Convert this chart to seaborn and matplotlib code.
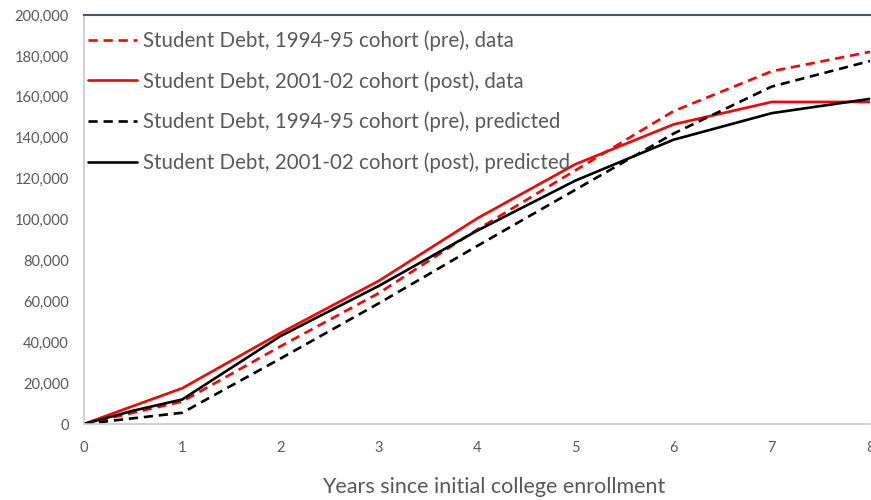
import numpy as np
import pandas as pd
import matplotlib
matplotlib.use("Agg")
import matplotlib.pyplot as plt
import seaborn as sns
from matplotlib.ticker import FuncFormatter

sns.set_theme(style="white")
plt.rcParams['font.family'] = ['Lato', 'DejaVu Sans']

# Years since initial college enrollment
years = [0, 0.5, 1, 2, 3, 4, 5, 6, 7, 8]

pre_data = [0, 5500, 11000, 38000, 64000, 95000, 124000, 153000, 172500, 182000]
post_data = [0, 8800, 17500, 44500, 70000, 100500, 127000, 146500, 157500, 157500]
pre_pred = [0, 2800, 5500, 32000, 59000, 87000, 114500, 142000, 165000, 177500]
post_pred = [0, 6500, 12000, 43000, 67500, 94500, 119000, 139000, 152000, 159000]

series_names = [
    "Student Debt, 1994-95 cohort (pre), data",
    "Student Debt, 2001-02 cohort (post), data",
    "Student Debt, 1994-95 cohort (pre), predicted",
    "Student Debt, 2001-02 cohort (post), predicted",
]
series_values = [pre_data, post_data, pre_pred, post_pred]
series_colors = ["#FF0000", "#FF0000", "#000000", "#000000"]
series_dashes = [(3.5, 2.2), "", (3.5, 2.2), ""]

df = pd.concat(
    [pd.DataFrame({"year": years, "debt": vals, "series": name})
     for name, vals in zip(series_names, series_values)],
    ignore_index=True,
)

fig = plt.figure(figsize=(8.71, 5.0), dpi=100)
ax = fig.add_axes([84 / 871, 76 / 500, 786 / 871, 409 / 500])

sns.lineplot(
    data=df, x="year", y="debt", hue="series", style="series",
    hue_order=series_names, style_order=series_names,
    palette=dict(zip(series_names, series_colors)),
    dashes=dict(zip(series_names, series_dashes)),
    linewidth=1.9, ax=ax,
)

ax.set_xlim(0, 8)
ax.set_ylim(0, 200000)
ax.set_xticks(range(0, 9))
ax.set_yticks(range(0, 200001, 20000))
ax.yaxis.set_major_formatter(FuncFormatter(lambda v, p: f"{int(v):,}"))
ax.tick_params(axis="both", length=0, colors="#595959", labelsize=10.5)
ax.tick_params(axis="y", pad=11)
ax.tick_params(axis="x", pad=12)

ax.set_xlabel("Years since initial college enrollment", fontsize=15.5,
              color="#595959")
ax.xaxis.set_label_coords(0.5216, -0.154)
ax.xaxis.label.set_va("center")
ax.set_ylabel("")

for side in ["left", "bottom"]:
    ax.spines[side].set_color("#C8C8C8")
    ax.spines[side].set_linewidth(1.2)
ax.spines["top"].set_color("#44546A")
ax.spines["top"].set_linewidth(1.5)
ax.spines["right"].set_visible(False)

handles, labels = ax.get_legend_handles_labels()
leg = ax.legend(handles, labels, loc="upper left", frameon=False, fontsize=14.8,
                handlelength=2.4, handletextpad=0.25, labelspacing=0.97,
                borderpad=0.2, borderaxespad=0.0, bbox_to_anchor=(0.0, 0.972))
for t in leg.get_texts():
    t.set_color("#595959")

fig.savefig("out.png", dpi=100)
